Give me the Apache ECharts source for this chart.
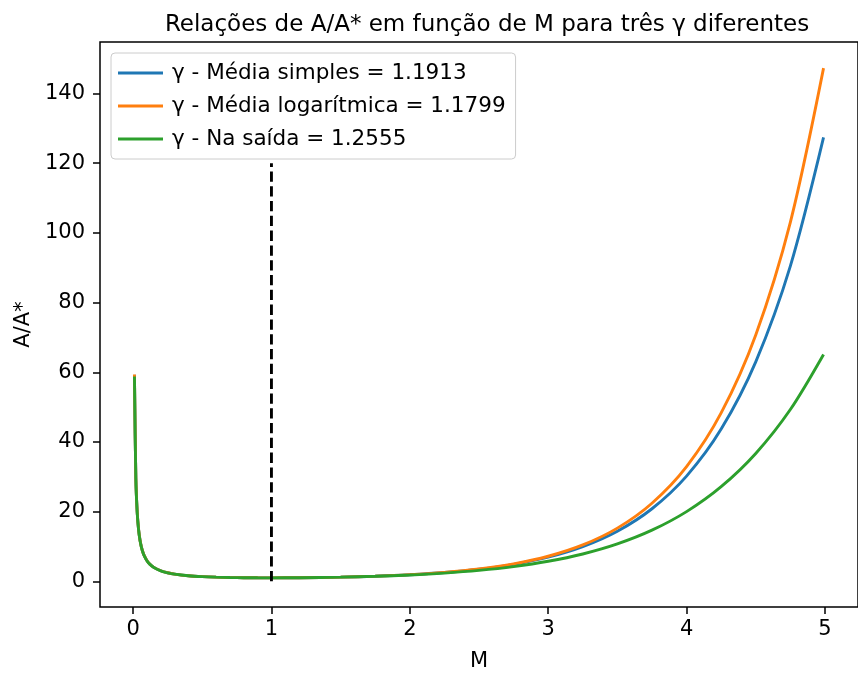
<!DOCTYPE html>
<html>
<head>
<meta charset="utf-8">
<script src="https://cdn.jsdelivr.net/npm/echarts@6/dist/echarts.min.js"></script>
<style>
  html, body { margin: 0; padding: 0; background: #fff; }
  #chart { width: 858px; height: 677px; }
</style>
</head>
<body>
<div id="chart"></div>
<script>
// Mach numbers where the area ratio is sampled
var machs = [0.01, 0.02, 0.03, 0.04, 0.05, 0.06, 0.07, 0.08, 0.1, 0.12, 0.15, 0.2, 0.25, 0.3,
  0.4, 0.5, 0.6, 0.7, 0.8, 0.9, 1.0, 1.2, 1.5, 1.75, 2.0, 2.25, 2.5, 2.75, 3.0, 3.25, 3.5,
  3.75, 4.0, 4.25, 4.5, 4.75, 4.99];

// A/A* for gamma = 1.1913 (simple mean)
var ratioSimple = [59.26, 29.63, 19.76, 14.83, 11.87, 9.897, 8.49, 7.434, 5.96, 4.977, 4.00, 3.03,
  2.453, 2.075, 1.616, 1.357, 1.199, 1.101, 1.041, 1.010, 1.000, 1.034, 1.207, 1.475, 1.895,
  2.528, 3.471, 4.867, 6.925, 9.951, 14.38, 20.83, 30.20, 43.69, 63.00, 90.46, 127.4];

// A/A* for gamma = 1.1799 (log mean)
var ratioLog = [59.35, 29.68, 19.79, 14.85, 11.89, 9.910, 8.50, 7.444, 5.97, 4.984, 4.005, 3.033,
  2.456, 2.077, 1.618, 1.358, 1.200, 1.101, 1.041, 1.010, 1.000, 1.034, 1.209, 1.481, 1.910,
  2.562, 3.542, 5.007, 7.192, 10.44, 15.27, 22.42, 32.93, 48.33, 70.72, 103.05, 147.3];

// A/A* for gamma = 1.2555 (exit)
var ratioExit = [58.82, 29.41, 19.61, 14.71, 11.78, 9.823, 8.426, 7.379, 5.915, 4.941, 3.971, 3.008,
  2.437, 2.062, 1.608, 1.352, 1.196, 1.099, 1.040, 1.009, 1.000, 1.033, 1.196, 1.444, 1.819,
  2.363, 3.138, 4.228, 5.748, 7.851, 10.74, 14.68, 20.01, 27.17, 36.71, 49.31, 65.12];

var seriesNames = [
  'γ - Média simples = 1.1913',
  'γ - Média logarítmica = 1.1799',
  'γ - Na saída = 1.2555'
];
var seriesColors = ['#1f77b4', '#ff7f0e', '#2ca02c'];

// Throat marker (M = 1) drawn from 0 to 120
var throatMach = 1;
var throatSpan = [0, 120];

var xTicks = [0, 1, 2, 3, 4, 5];
var yTicks = [0, 20, 40, 60, 80, 100, 120, 140];

var FONT = 'DejaVu Sans';
var TICK_SIZE = 21;

function pairs(ys) {
  return machs.map(function (m, i) { return [m, ys[i]]; });
}

var curves = [ratioSimple, ratioLog, ratioExit].map(function (ys, i) {
  return {
    name: seriesNames[i],
    type: 'line',
    data: pairs(ys),
    showSymbol: false,
    symbol: 'none',
    smooth: 0.3,
    color: seriesColors[i],
    lineStyle: { width: 2.9, color: seriesColors[i] },
    z: 3 + i
  };
});

curves.push({
  name: 'throat',
  type: 'line',
  data: throatSpan.map(function (v) { return [throatMach, v]; }),
  showSymbol: false,
  symbol: 'none',
  color: '#000',
  lineStyle: { width: 2.9, color: '#000', type: [10.3, 4.5] },
  z: 10
});

var chart = echarts.init(document.getElementById('chart'), null, { renderer: 'canvas' });

chart.setOption({
  animation: false,
  backgroundColor: '#ffffff',
  title: {
    text: 'Relações de A/A* em função de M para três γ diferentes',
    left: 482,
    top: 9,
    textAlign: 'center',
    textStyle: { fontFamily: FONT, fontSize: 23, fontWeight: 'normal', color: '#000' }
  },
  legend: {
    data: seriesNames,
    orient: 'vertical',
    left: 111,
    top: 53,
    icon: 'rect',
    itemWidth: 45,
    itemHeight: 3,
    itemGap: 9,
    padding: [8, 10, 8, 7],
    backgroundColor: 'rgba(255,255,255,0.8)',
    borderColor: '#cccccc',
    borderWidth: 1,
    borderRadius: 4,
    textStyle: { fontFamily: FONT, fontSize: 21.5, color: '#000', lineHeight: 24, padding: [0, 0, 0, 4] }
  },
  grid: {
    left: 100,
    top: 42,
    width: 762,
    height: 569,
    show: true,
    borderColor: '#000',
    borderWidth: 1.5,
    backgroundColor: 'transparent'
  },
  xAxis: {
    type: 'value',
    min: -0.239,
    max: 5.239,
    name: 'M',
    nameLocation: 'middle',
    nameGap: 44,
    nameTextStyle: { fontFamily: FONT, fontSize: TICK_SIZE, color: '#000' },
    axisLine: { show: false, onZero: false },
    axisTick: { show: true, length: 7, inside: false, customValues: xTicks, lineStyle: { color: '#000', width: 1.5 } },
    axisLabel: { customValues: xTicks, margin: 12, fontFamily: FONT, fontSize: TICK_SIZE, color: '#000' },
    splitLine: { show: false }
  },
  yAxis: {
    type: 'value',
    min: -7.37,
    max: 154.8,
    name: 'A/A*',
    nameLocation: 'middle',
    nameGap: 60,
    nameTextStyle: { fontFamily: FONT, fontSize: TICK_SIZE, color: '#000' },
    axisLine: { show: false, onZero: false },
    axisTick: { show: true, length: 7, inside: false, customValues: yTicks, lineStyle: { color: '#000', width: 1.5 } },
    axisLabel: { customValues: yTicks, margin: 15, fontFamily: FONT, fontSize: TICK_SIZE, color: '#000' },
    splitLine: { show: false }
  },
  series: curves
});
</script>
</body>
</html>
